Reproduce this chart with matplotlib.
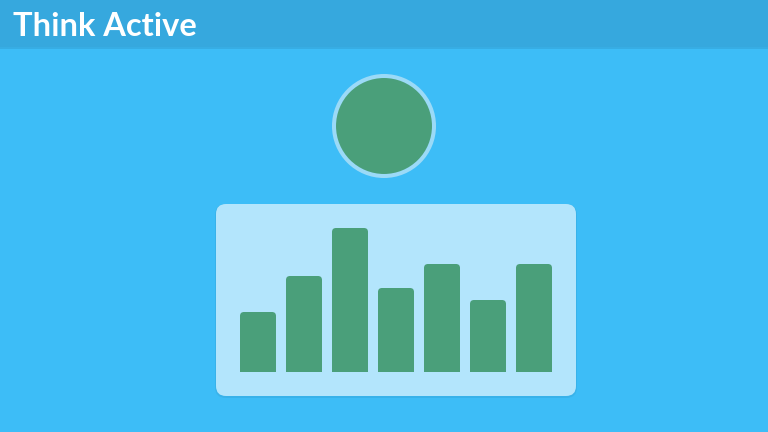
import matplotlib
matplotlib.use("Agg")
import matplotlib.pyplot as plt
from matplotlib.patches import FancyBboxPatch, Rectangle, Circle

title = "Think Active"
values = [5, 8, 12, 7, 9, 6, 9]

bg = "#3DBDF7"
header = "#36A8DE"
panel = "#B3E5FC"
green = "#4A9F7A"

fig = plt.figure(figsize=(7.68, 4.32), dpi=100)
fig.patch.set_facecolor(bg)

# background layer in pixel coordinates
ax = fig.add_axes([0, 0, 1, 1])
ax.set_xlim(0, 768)
ax.set_ylim(432, 0)
ax.axis("off")

ax.add_patch(Rectangle((0, 47), 768, 2, color="#34A3D8", alpha=0.6, lw=0))
ax.add_patch(Rectangle((0, 0), 768, 47, color=header, lw=0))
ax.text(13, 36.5, title, fontsize=23.5, fontweight="bold", family=["Lato", "DejaVu Sans"],
        color="white", va="baseline", ha="left")

ax.add_patch(Circle((384, 126), 50, facecolor=green, edgecolor="#9BDAF7", lw=2.9))

# panel with soft shadow
ax.add_patch(FancyBboxPatch((215, 204), 362, 194, boxstyle="round,pad=0,rounding_size=11",
                            facecolor="#35A9DE", edgecolor="none", alpha=0.5))
ax.add_patch(FancyBboxPatch((216, 204), 360, 192, boxstyle="round,pad=0,rounding_size=10",
                            facecolor=panel, edgecolor="none"))

# bar chart on top of the panel
bx = fig.add_axes([216 / 768, 1 - 396 / 432, 360 / 768, 192 / 432])
bx.patch.set_alpha(0)
bx.axis("off")
bx.set_xlim(-0.913, 6.913)
bx.set_ylim(-2, 14)

w = 36 / 46
r = 4 / 46
aspect = 46 / 12
for i, v in enumerate(values):
    bx.add_patch(FancyBboxPatch((i - w / 2, 0), w, v,
                                boxstyle="round,pad=0,rounding_size=%f" % r,
                                mutation_aspect=aspect, facecolor=green, edgecolor="none"))
    bx.add_patch(Rectangle((i - w / 2, 0), w, v - 1, facecolor=green, edgecolor="none"))

fig.savefig("out.png", dpi=100, facecolor=fig.get_facecolor())
